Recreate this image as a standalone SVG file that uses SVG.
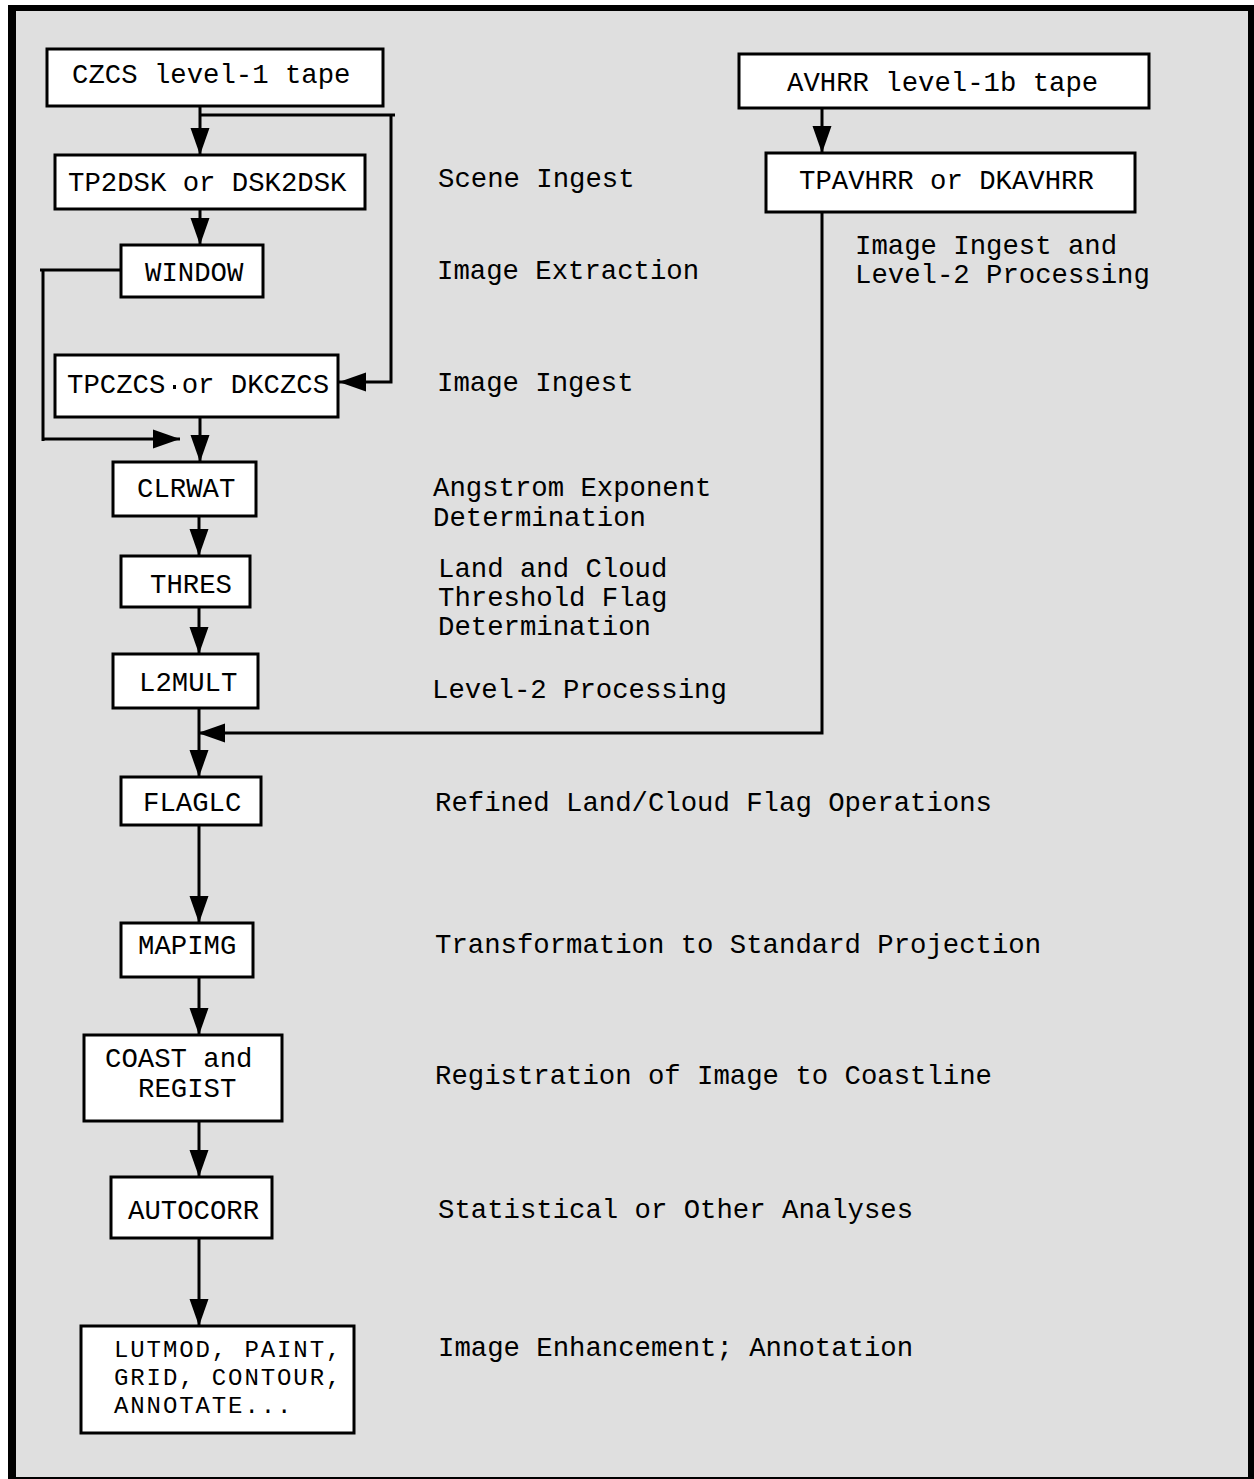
<svg xmlns="http://www.w3.org/2000/svg" width="1254" height="1479" viewBox="0 0 1254 1479">
<defs>
<style>
.box{fill:#ffffff;stroke:#000000;stroke-width:3}
.t{font-family:"Liberation Mono","Courier New",monospace;font-size:27.3px;fill:#000000}
.s{font-size:24px;letter-spacing:1.9px}
.c{fill:none;stroke:#000000;stroke-width:3}
</style>
<marker id="ah" markerUnits="userSpaceOnUse" markerWidth="28" markerHeight="20" refX="27" refY="9.5" orient="auto" viewBox="0 0 28 19">
<path d="M0,0 L27,9.5 L0,19 Z" fill="#000000"/>
</marker>
</defs>
<rect x="0" y="0" width="1254" height="1479" fill="#ffffff"/>
<rect x="8" y="5" width="1246" height="1474" fill="#000000"/>
<rect x="16" y="11" width="1232" height="1466" fill="#dfdfdf"/>

<g id="connectors">
<path class="c" d="M200,106 V155" marker-end="url(#ah)"/>
<path class="c" d="M200,115 H395 M391,115 V382 H339" marker-end="url(#ah)"/>
<path class="c" d="M200,209 V245" marker-end="url(#ah)"/>
<path class="c" d="M121,270 H40 M43,270 V441 M43,439 H180" marker-end="url(#ah)"/>
<path class="c" d="M200,417 V462" marker-end="url(#ah)"/>
<path class="c" d="M199,516 V556" marker-end="url(#ah)"/>
<path class="c" d="M199,607 V654" marker-end="url(#ah)"/>
<path class="c" d="M199,708 V777" marker-end="url(#ah)"/>
<path class="c" d="M822,108 V153" marker-end="url(#ah)"/>
<path class="c" d="M822,212 V733 H198" marker-end="url(#ah)"/>
<path class="c" d="M199,825 V923" marker-end="url(#ah)"/>
<path class="c" d="M199,977 V1035" marker-end="url(#ah)"/>
<path class="c" d="M199,1121 V1177" marker-end="url(#ah)"/>
<path class="c" d="M199,1238 V1326" marker-end="url(#ah)"/>
</g>

<g id="czcs-tape"><rect class="box" x="47" y="49" width="336" height="57"/><text class="t" x="72" y="83">CZCS level-1 tape</text></g>
<g id="tp2dsk"><rect class="box" x="55" y="155" width="310" height="54"/><text class="t" x="68" y="191">TP2DSK or DSK2DSK</text></g>
<g id="window"><rect class="box" x="121" y="245" width="142" height="52"/><text class="t" x="145" y="281">WINDOW</text></g>
<g id="tpczcs"><rect class="box" x="55" y="355" width="283" height="62"/><text class="t" x="67" y="393">TPCZCS or DKCZCS</text><rect x="173" y="385" width="3" height="4" fill="#000000"/></g>
<g id="clrwat"><rect class="box" x="113" y="462" width="143" height="54"/><text class="t" x="137" y="497">CLRWAT</text></g>
<g id="thres"><rect class="box" x="121" y="556" width="129" height="51"/><text class="t" x="150" y="593">THRES</text></g>
<g id="l2mult"><rect class="box" x="113" y="654" width="145" height="54"/><text class="t" x="139" y="691">L2MULT</text></g>
<g id="flaglc"><rect class="box" x="121" y="777" width="140" height="48"/><text class="t" x="143" y="811">FLAGLC</text></g>
<g id="mapimg"><rect class="box" x="121" y="923" width="132" height="54"/><text class="t" x="138" y="954">MAPIMG</text></g>
<g id="coast"><rect class="box" x="84" y="1035" width="198" height="86"/><text class="t" x="105" y="1067">COAST and</text><text class="t" x="138" y="1097">REGIST</text></g>
<g id="autocorr"><rect class="box" x="111" y="1177" width="161" height="61"/><text class="t" x="128" y="1219">AUTOCORR</text></g>
<g id="lutmod"><rect class="box" x="81" y="1326" width="273" height="107"/><text class="t s" x="114" y="1357">LUTMOD, PAINT,</text><text class="t s" x="114" y="1385">GRID, CONTOUR,</text><text class="t s" x="114" y="1413">ANNOTATE...</text></g>
<g id="avhrr-tape"><rect class="box" x="739" y="54" width="410" height="54"/><text class="t" x="787" y="91">AVHRR level-1b tape</text></g>
<g id="tpavhrr"><rect class="box" x="766" y="153" width="369" height="59"/><text class="t" x="799" y="189">TPAVHRR or DKAVHRR</text></g>

<g id="labels">
<text class="t" x="438" y="187">Scene Ingest</text>
<text class="t" x="437" y="279">Image Extraction</text>
<text class="t" x="437" y="391">Image Ingest</text>
<text class="t" x="433" y="496">Angstrom Exponent</text>
<text class="t" x="433" y="526">Determination</text>
<text class="t" x="438" y="577">Land and Cloud</text>
<text class="t" x="438" y="606">Threshold Flag</text>
<text class="t" x="438" y="635">Determination</text>
<text class="t" x="432" y="698">Level-2 Processing</text>
<text class="t" x="855" y="254">Image Ingest and</text>
<text class="t" x="855" y="283">Level-2 Processing</text>
<text class="t" x="435" y="811">Refined Land/Cloud Flag Operations</text>
<text class="t" x="435" y="953">Transformation to Standard Projection</text>
<text class="t" x="435" y="1084">Registration of Image to Coastline</text>
<text class="t" x="438" y="1218">Statistical or Other Analyses</text>
<text class="t" x="438" y="1356">Image Enhancement; Annotation</text>
</g>
</svg>
